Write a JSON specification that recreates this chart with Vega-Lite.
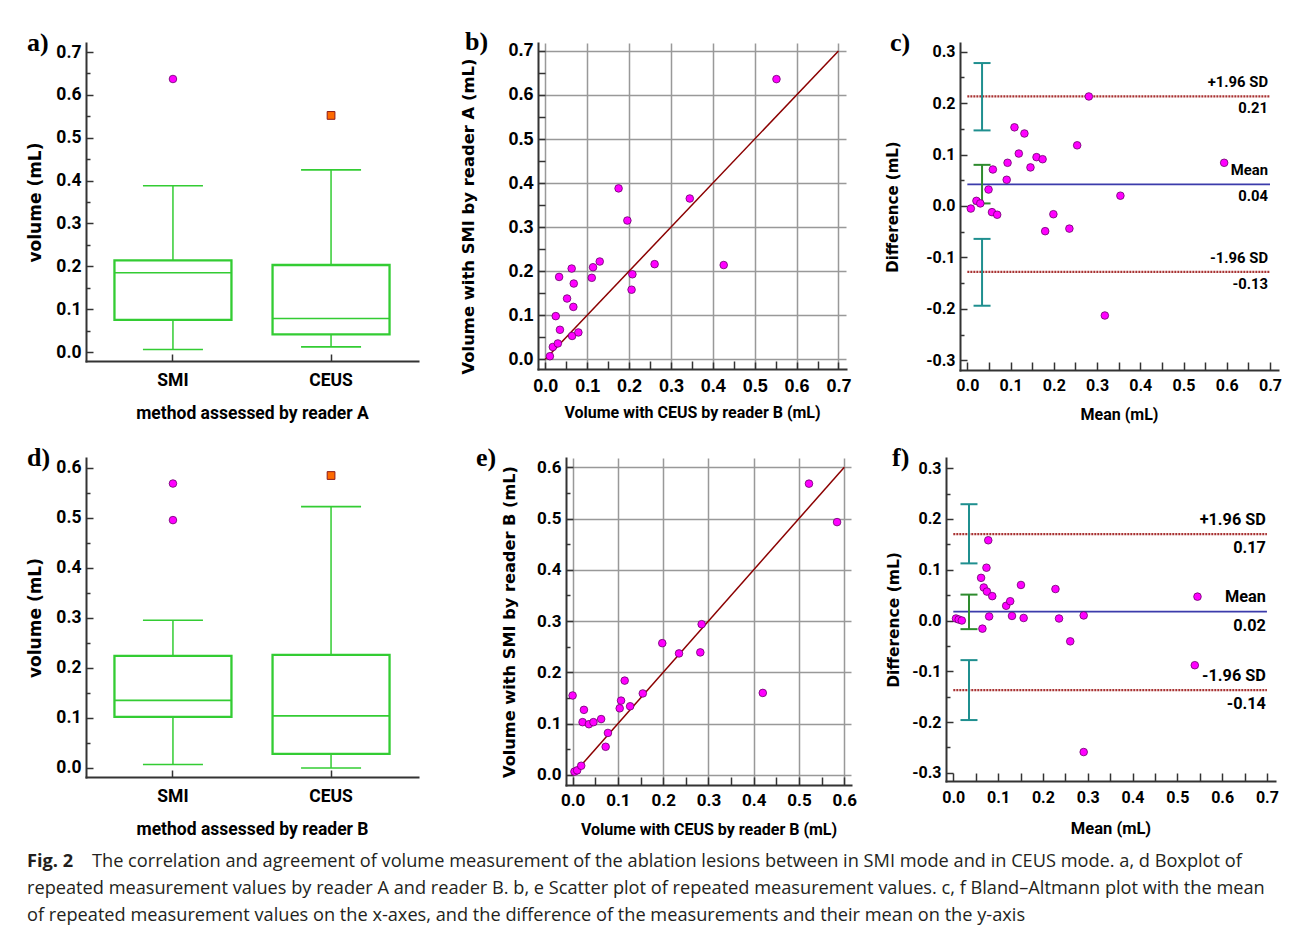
{
"$schema": "https://vega.github.io/schema/vega-lite/v6.json",
"background": "white",
"padding": {"left": 26, "top": 28, "right": 5, "bottom": 5},
"config": {
  "view": {"stroke": null},
  "title": {"font": "Liberation Serif", "fontSize": 26, "fontWeight": "bold", "anchor": "start", "frame": "group", "baseline": "alphabetic", "offset": 0, "dy": 17, "color": "#000"},
  "axis": {"domainColor": "#333", "domainWidth": 2, "domainCap": "square", "tickColor": "#333", "tickWidth": 1.5, "labelFont": "Roboto", "labelFontWeight": "bold", "labelColor": "#000", "titleColor": "#000", "grid": false, "labelFlush": false, "labelOverlap": false}
},
"datasets": {
  "a_box": [{"method": "SMI", "lo": 0.006, "q1": 0.075, "med": 0.185, "q3": 0.214, "hi": 0.388}, {"method": "CEUS", "lo": 0.012, "q1": 0.041, "med": 0.078, "q3": 0.203, "hi": 0.425}],
  "a_out": [{"method": "SMI", "volume": 0.637}, {"method": "CEUS", "volume": 0.552}],
  "d_box": [{"method": "SMI", "lo": 0.007, "q1": 0.102, "med": 0.135, "q3": 0.224, "hi": 0.295}, {"method": "CEUS", "lo": 0.0, "q1": 0.028, "med": 0.104, "q3": 0.226, "hi": 0.522}],
  "d_out": [{"method": "SMI", "volume": 0.568}, {"method": "SMI", "volume": 0.495}, {"method": "CEUS", "volume": 0.584}],
  "b_pts": [{"ceus": 0.011, "smi": 0.007}, {"ceus": 0.018, "smi": 0.028}, {"ceus": 0.025, "smi": 0.098}, {"ceus": 0.030, "smi": 0.036}, {"ceus": 0.033, "smi": 0.187}, {"ceus": 0.035, "smi": 0.067}, {"ceus": 0.052, "smi": 0.138}, {"ceus": 0.063, "smi": 0.206}, {"ceus": 0.064, "smi": 0.053}, {"ceus": 0.067, "smi": 0.119}, {"ceus": 0.068, "smi": 0.172}, {"ceus": 0.079, "smi": 0.061}, {"ceus": 0.111, "smi": 0.185}, {"ceus": 0.114, "smi": 0.209}, {"ceus": 0.130, "smi": 0.222}, {"ceus": 0.175, "smi": 0.388}, {"ceus": 0.196, "smi": 0.315}, {"ceus": 0.206, "smi": 0.158}, {"ceus": 0.208, "smi": 0.193}, {"ceus": 0.261, "smi": 0.216}, {"ceus": 0.345, "smi": 0.365}, {"ceus": 0.426, "smi": 0.214}, {"ceus": 0.552, "smi": 0.636}],
  "b_line": [{"v": 0}, {"v": 0.7}],
  "e_pts": [{"ceus": 0.000, "smi": 0.155}, {"ceus": 0.004, "smi": 0.0065}, {"ceus": 0.010, "smi": 0.009}, {"ceus": 0.019, "smi": 0.018}, {"ceus": 0.022, "smi": 0.103}, {"ceus": 0.025, "smi": 0.127}, {"ceus": 0.036, "smi": 0.099}, {"ceus": 0.046, "smi": 0.103}, {"ceus": 0.063, "smi": 0.109}, {"ceus": 0.073, "smi": 0.055}, {"ceus": 0.078, "smi": 0.082}, {"ceus": 0.104, "smi": 0.130}, {"ceus": 0.107, "smi": 0.145}, {"ceus": 0.115, "smi": 0.184}, {"ceus": 0.127, "smi": 0.134}, {"ceus": 0.155, "smi": 0.159}, {"ceus": 0.198, "smi": 0.257}, {"ceus": 0.235, "smi": 0.237}, {"ceus": 0.282, "smi": 0.239}, {"ceus": 0.285, "smi": 0.294}, {"ceus": 0.420, "smi": 0.160}, {"ceus": 0.522, "smi": 0.568}, {"ceus": 0.584, "smi": 0.493}],
  "e_line": [{"v": 0}, {"v": 0.6}],
  "c_pts": [{"mean": 0.008, "diff": -0.005}, {"mean": 0.021, "diff": 0.010}, {"mean": 0.030, "diff": 0.005}, {"mean": 0.049, "diff": 0.032}, {"mean": 0.057, "diff": -0.012}, {"mean": 0.059, "diff": 0.071}, {"mean": 0.069, "diff": -0.017}, {"mean": 0.091, "diff": 0.051}, {"mean": 0.093, "diff": 0.084}, {"mean": 0.109, "diff": 0.153}, {"mean": 0.119, "diff": 0.102}, {"mean": 0.132, "diff": 0.141}, {"mean": 0.146, "diff": 0.075}, {"mean": 0.160, "diff": 0.095}, {"mean": 0.174, "diff": 0.091}, {"mean": 0.180, "diff": -0.049}, {"mean": 0.199, "diff": -0.016}, {"mean": 0.236, "diff": -0.044}, {"mean": 0.254, "diff": 0.118}, {"mean": 0.281, "diff": 0.213}, {"mean": 0.318, "diff": -0.213}, {"mean": 0.354, "diff": 0.020}, {"mean": 0.594, "diff": 0.084}],
  "c_lines": [{"type": "sd", "name": "+1.96 SD", "value": 0.213, "label": "0.21"}, {"type": "mean", "name": "Mean", "value": 0.042, "label": "0.04"}, {"type": "sd", "name": "-1.96 SD", "value": -0.128, "label": "-0.13"}],
  "c_ci": [{"ci": "sd", "pos": 0.034, "lo": 0.147, "hi": 0.278}, {"ci": "mean", "pos": 0.034, "lo": 0.005, "hi": 0.080}, {"ci": "sd", "pos": 0.034, "lo": -0.194, "hi": -0.064}],
  "f_pts": [{"mean": 0.006, "diff": 0.004}, {"mean": 0.012, "diff": 0.002}, {"mean": 0.019, "diff": 0.000}, {"mean": 0.062, "diff": 0.084}, {"mean": 0.065, "diff": -0.016}, {"mean": 0.068, "diff": 0.065}, {"mean": 0.074, "diff": 0.104}, {"mean": 0.075, "diff": 0.057}, {"mean": 0.078, "diff": 0.158}, {"mean": 0.080, "diff": 0.008}, {"mean": 0.087, "diff": 0.048}, {"mean": 0.118, "diff": 0.029}, {"mean": 0.127, "diff": 0.038}, {"mean": 0.131, "diff": 0.009}, {"mean": 0.151, "diff": 0.070}, {"mean": 0.157, "diff": 0.005}, {"mean": 0.228, "diff": 0.062}, {"mean": 0.236, "diff": 0.004}, {"mean": 0.261, "diff": -0.041}, {"mean": 0.291, "diff": 0.010}, {"mean": 0.291, "diff": -0.259}, {"mean": 0.539, "diff": -0.088}, {"mean": 0.545, "diff": 0.047}],
  "f_lines": [{"type": "sd", "name": "+1.96 SD", "value": 0.170, "label": "0.17"}, {"type": "mean", "name": "Mean", "value": 0.0175, "label": "0.02"}, {"type": "sd", "name": "-1.96 SD", "value": -0.137, "label": "-0.14"}],
  "f_ci": [{"ci": "sd", "pos": 0.035, "lo": 0.1125, "hi": 0.229}, {"ci": "mean", "pos": 0.035, "lo": -0.017, "hi": 0.051}, {"ci": "sd", "pos": 0.035, "lo": -0.196, "hi": -0.078}],
  "caption": [{"line": 1, "part": "fig", "text": "Fig. 2"}, {"line": 1, "part": "body", "text": "The correlation and agreement of volume measurement of the ablation lesions between in SMI mode and in CEUS mode. a, d Boxplot of"}, {"line": 2, "part": "body", "text": "repeated measurement values by reader A and reader B. b, e Scatter plot of repeated measurement values. c, f Bland–Altmann plot with the mean"}, {"line": 3, "part": "body", "text": "of repeated measurement values on the x-axes, and the difference of the measurements and their mean on the y-axis"}]
},
"concat": [
 {
  "concat": [
   {
    "concat": [
     {
      "width": 332, "height": 318,
      "title": {"text": "a)", "dx": -59},
      "resolve": {"axis": {"x": "independent", "y": "independent"}},
      "layer": [
       {"data": {"name": "a_box"}, "mark": {"type": "rule", "color": "#33cc33", "strokeWidth": 1.5},
        "encoding": {
         "x": {"field": "method", "type": "nominal", "sort": ["SMI", "CEUS"], "scale": {"paddingInner": 0.3, "paddingOuter": 0.2},
               "axis": {"orient": "bottom", "title": "method assessed by reader A", "labelAngle": 0, "labelFontSize": 17.5, "tickSize": -7, "labelPadding": 17, "titleFont": "Roboto", "titleFontSize": 17.5, "titleFontWeight": "bold", "titleY": 43, "titleBaseline": "top"}},
         "y": {"field": "lo", "type": "quantitative", "scale": {"domain": [-0.021, 0.721], "nice": false, "zero": false},
               "axis": {"orient": "left", "title": "volume (mL)", "values": [0, 0.1, 0.2, 0.3, 0.4, 0.5, 0.6, 0.7], "labelExpr": "replace(format(datum.value, '.1f'), '\u2212', '-')", "labelFontSize": 17.5, "tickSize": -7, "labelPadding": 12, "titleFont": "DejaVu Sans", "titleFontSize": 17, "titleFontWeight": "bold", "titleX": -42, "titleBaseline": "bottom"}},
         "y2": {"field": "hi"}
        }},
       {"data": {"name": "a_box"}, "mark": {"type": "bar", "size": 117, "fill": "white", "stroke": "#33cc33", "strokeWidth": 2.3},
        "encoding": {"x": {"field": "method", "type": "nominal", "sort": ["SMI", "CEUS"], "axis": null}, "y": {"field": "q1", "type": "quantitative", "axis": null}, "y2": {"field": "q3"}}},
       {"data": {"name": "a_box"}, "mark": {"type": "tick", "orient": "horizontal", "size": 117, "thickness": 1.6, "color": "#33cc33", "opacity": 1},
        "encoding": {"x": {"field": "method", "type": "nominal", "sort": ["SMI", "CEUS"], "axis": null},
         "y": {"field": "med", "type": "quantitative", "axis": {"orient": "left", "values": [0.05, 0.15, 0.25, 0.35, 0.45, 0.55, 0.65], "labels": false, "domain": false, "grid": false, "tickSize": -4, "title": null}}}},
       {"data": {"name": "a_box"}, "mark": {"type": "tick", "orient": "horizontal", "size": 60, "thickness": 1.6, "color": "#33cc33", "opacity": 1},
        "encoding": {"x": {"field": "method", "type": "nominal", "sort": ["SMI", "CEUS"], "axis": null}, "y": {"field": "lo", "type": "quantitative", "axis": null}}},
       {"data": {"name": "a_box"}, "mark": {"type": "tick", "orient": "horizontal", "size": 60, "thickness": 1.6, "color": "#33cc33", "opacity": 1},
        "encoding": {"x": {"field": "method", "type": "nominal", "sort": ["SMI", "CEUS"], "axis": null}, "y": {"field": "hi", "type": "quantitative", "axis": null}}},
       {"data": {"name": "a_out"}, "transform": [{"filter": "datum.method == 'SMI'"}], "mark": {"type": "point", "shape": "circle", "filled": true, "color": "#ff00ff", "stroke": "#6b006b", "strokeWidth": 0.8, "size": 58, "opacity": 1},
        "encoding": {"x": {"field": "method", "type": "nominal", "sort": ["SMI", "CEUS"], "axis": null}, "y": {"field": "volume", "type": "quantitative", "axis": null}}},
       {"data": {"name": "a_out"}, "transform": [{"filter": "datum.method == 'CEUS'"}], "mark": {"type": "point", "shape": "square", "filled": true, "color": "#ff6a00", "stroke": "#8b1a1a", "strokeWidth": 1, "size": 60, "opacity": 1},
        "encoding": {"x": {"field": "method", "type": "nominal", "sort": ["SMI", "CEUS"], "axis": null}, "y": {"field": "volume", "type": "quantitative", "axis": null}}}
      ]
     },
     {
      "concat": [
       {
        "width": 308, "height": 326,
        "title": {"text": "b)", "dx": -73},
        "resolve": {"axis": {"x": "independent", "y": "independent"}},
        "layer": [
         {"data": {"name": "b_line"}, "mark": {"type": "line", "color": "#8b0000", "strokeWidth": 1.5},
          "encoding": {
           "x": {"field": "v", "type": "quantitative", "scale": {"domain": [-0.0174, 0.718], "nice": false, "zero": false},
                 "axis": {"orient": "bottom", "values": [0, 0.1, 0.2, 0.3, 0.4, 0.5, 0.6, 0.7], "format": ".1f", "grid": true, "gridColor": "#999", "gridWidth": 1.5, "labelFont": "Liberation Sans, Arial, sans-serif", "labelFontSize": 18, "tickSize": -7, "labelPadding": 15, "title": "Volume with CEUS by reader B (mL)", "titleFont": "Roboto", "titleFontSize": 16, "titleFontWeight": "bold", "titleY": 35, "titleBaseline": "top"}},
           "y": {"field": "v", "type": "quantitative", "scale": {"domain": [-0.022, 0.718], "nice": false, "zero": false},
                 "axis": {"orient": "left", "values": [0, 0.1, 0.2, 0.3, 0.4, 0.5, 0.6, 0.7], "format": ".1f", "grid": true, "gridColor": "#999", "gridWidth": 1.5, "labelFont": "Liberation Sans, Arial, sans-serif", "labelFontSize": 18, "tickSize": -7, "labelPadding": 12, "title": "Volume with SMI by reader A (mL)", "titleFont": "DejaVu Sans", "titleFontSize": 16.4, "titleFontWeight": "bold", "titleX": -61.7, "titleY": 173, "titleBaseline": "bottom"}}
          }},
         {"data": {"name": "b_pts"}, "mark": {"type": "point", "shape": "circle", "filled": true, "color": "#ff00ff", "stroke": "#6b006b", "strokeWidth": 0.8, "size": 58, "opacity": 1},
          "encoding": {
           "x": {"field": "ceus", "type": "quantitative", "axis": {"orient": "bottom", "values": [0.05, 0.15, 0.25, 0.35, 0.45, 0.55, 0.65], "labels": false, "domain": false, "grid": false, "tickSize": -8, "title": null}},
           "y": {"field": "smi", "type": "quantitative", "axis": {"orient": "left", "values": [0.05, 0.15, 0.25, 0.35, 0.45, 0.55, 0.65], "labels": false, "domain": false, "grid": false, "tickSize": -7, "title": null}}
          }}
        ]
       },
       {
        "width": 318, "height": 327,
        "title": {"text": "c)", "dx": -70},
        "resolve": {"axis": {"x": "independent", "y": "independent"}},
        "layer": [
         {"data": {"name": "c_lines"}, "transform": [{"filter": "datum.type == 'sd'"}], "mark": {"type": "rule", "color": "#a83232", "strokeWidth": 2.2, "strokeDash": [2, 1]},
          "encoding": {
           "x": {"datum": 0, "type": "quantitative", "scale": {"domain": [-0.017, 0.7185], "nice": false, "zero": false},
                 "axis": {"orient": "bottom", "values": [0, 0.1, 0.2, 0.3, 0.4, 0.5, 0.6, 0.7], "format": ".1f", "labelFontSize": 16, "tickSize": -8, "labelPadding": 15, "title": "Mean (mL)", "titleFont": "Roboto", "titleFontSize": 16, "titleFontWeight": "bold", "titleY": 36.5, "titleBaseline": "top"}},
           "x2": {"datum": 0.7},
           "y": {"field": "value", "type": "quantitative", "scale": {"domain": [-0.319, 0.317], "nice": false, "zero": false},
                 "axis": {"orient": "left", "values": [-0.3, -0.2, -0.1, 0, 0.1, 0.2, 0.3], "labelExpr": "replace(format(datum.value, '.1f'), '\u2212', '-')", "labelFontSize": 16, "tickSize": -7, "labelPadding": 12, "title": "Difference (mL)", "titleFont": "DejaVu Sans", "titleFontSize": 15, "titleFontWeight": "bold", "titleX": -59.3, "titleBaseline": "bottom"}}
          }},
         {"data": {"name": "c_lines"}, "transform": [{"filter": "datum.type == 'mean'"}], "mark": {"type": "rule", "color": "#3b3bab", "strokeWidth": 1.6},
          "encoding": {
           "x": {"datum": 0, "type": "quantitative", "axis": {"orient": "bottom", "values": [0.05, 0.15, 0.25, 0.35, 0.45, 0.55, 0.65], "labels": false, "domain": false, "grid": false, "tickSize": -8, "title": null}},
           "x2": {"datum": 0.7},
           "y": {"field": "value", "type": "quantitative", "axis": {"orient": "left", "values": [-0.25, -0.15, -0.05, 0.05, 0.15, 0.25], "labels": false, "domain": false, "grid": false, "tickSize": -4, "title": null}}
          }},
         {"data": {"name": "c_ci"}, "mark": {"type": "rule", "strokeWidth": 2},
          "encoding": {"x": {"field": "pos", "type": "quantitative", "axis": null}, "y": {"field": "lo", "type": "quantitative", "axis": null}, "y2": {"field": "hi"},
           "color": {"field": "ci", "type": "nominal", "scale": {"domain": ["sd", "mean"], "range": ["#1f8f8f", "#2e8b2e"]}, "legend": null}}},
         {"data": {"name": "c_ci"}, "mark": {"type": "tick", "orient": "horizontal", "size": 17, "thickness": 2, "opacity": 1},
          "encoding": {"x": {"field": "pos", "type": "quantitative", "axis": null}, "y": {"field": "lo", "type": "quantitative", "axis": null},
           "color": {"field": "ci", "type": "nominal", "scale": {"domain": ["sd", "mean"], "range": ["#1f8f8f", "#2e8b2e"]}, "legend": null}}},
         {"data": {"name": "c_ci"}, "mark": {"type": "tick", "orient": "horizontal", "size": 17, "thickness": 2, "opacity": 1},
          "encoding": {"x": {"field": "pos", "type": "quantitative", "axis": null}, "y": {"field": "hi", "type": "quantitative", "axis": null},
           "color": {"field": "ci", "type": "nominal", "scale": {"domain": ["sd", "mean"], "range": ["#1f8f8f", "#2e8b2e"]}, "legend": null}}},
         {"data": {"name": "c_lines"}, "mark": {"type": "text", "align": "right", "baseline": "alphabetic", "dx": -2, "dy": -9, "font": "Roboto", "fontSize": 14.8, "fontWeight": "bold", "color": "#000"},
          "encoding": {"x": {"datum": 0.7, "type": "quantitative", "axis": null}, "y": {"field": "value", "type": "quantitative", "axis": null}, "text": {"field": "name"}}},
         {"data": {"name": "c_lines"}, "mark": {"type": "text", "align": "right", "baseline": "top", "dx": -2, "dy": 5, "font": "Roboto", "fontSize": 14.8, "fontWeight": "bold", "color": "#000"},
          "encoding": {"x": {"datum": 0.7, "type": "quantitative", "axis": null}, "y": {"field": "value", "type": "quantitative", "axis": null}, "text": {"field": "label"}}},
         {"data": {"name": "c_pts"}, "mark": {"type": "point", "shape": "circle", "filled": true, "color": "#ff00ff", "stroke": "#6b006b", "strokeWidth": 0.8, "size": 58, "opacity": 1},
          "encoding": {"x": {"field": "mean", "type": "quantitative", "axis": null}, "y": {"field": "diff", "type": "quantitative", "axis": null}}}
        ]
       }
      ],
      "columns": 2, "align": "each", "spacing": 34
     }
    ],
    "columns": 2, "align": "none", "spacing": 42
   },
   {
    "concat": [
     {
      "width": 332, "height": 319,
      "title": {"text": "d)", "dx": -59},
      "resolve": {"axis": {"x": "independent", "y": "independent"}},
      "layer": [
       {"data": {"name": "d_box"}, "mark": {"type": "rule", "color": "#33cc33", "strokeWidth": 1.5},
        "encoding": {
         "x": {"field": "method", "type": "nominal", "sort": ["SMI", "CEUS"], "scale": {"paddingInner": 0.3, "paddingOuter": 0.2},
               "axis": {"orient": "bottom", "title": "method assessed by reader B", "labelAngle": 0, "labelFontSize": 17.5, "tickSize": -7, "labelPadding": 17, "titleFont": "Roboto", "titleFontSize": 17.5, "titleFontWeight": "bold", "titleY": 43, "titleBaseline": "top"}},
         "y": {"field": "lo", "type": "quantitative", "scale": {"domain": [-0.018, 0.619], "nice": false, "zero": false},
               "axis": {"orient": "left", "title": "volume (mL)", "values": [0, 0.1, 0.2, 0.3, 0.4, 0.5, 0.6], "labelExpr": "replace(format(datum.value, '.1f'), '\u2212', '-')", "labelFontSize": 17.5, "tickSize": -7, "labelPadding": 12, "titleFont": "DejaVu Sans", "titleFontSize": 17, "titleFontWeight": "bold", "titleX": -42, "titleBaseline": "bottom"}},
         "y2": {"field": "hi"}
        }},
       {"data": {"name": "d_box"}, "mark": {"type": "bar", "size": 117, "fill": "white", "stroke": "#33cc33", "strokeWidth": 2.3},
        "encoding": {"x": {"field": "method", "type": "nominal", "sort": ["SMI", "CEUS"], "axis": null}, "y": {"field": "q1", "type": "quantitative", "axis": null}, "y2": {"field": "q3"}}},
       {"data": {"name": "d_box"}, "mark": {"type": "tick", "orient": "horizontal", "size": 117, "thickness": 1.6, "color": "#33cc33", "opacity": 1},
        "encoding": {"x": {"field": "method", "type": "nominal", "sort": ["SMI", "CEUS"], "axis": null},
         "y": {"field": "med", "type": "quantitative", "axis": {"orient": "left", "values": [0.05, 0.15, 0.25, 0.35, 0.45, 0.55], "labels": false, "domain": false, "grid": false, "tickSize": -4, "title": null}}}},
       {"data": {"name": "d_box"}, "mark": {"type": "tick", "orient": "horizontal", "size": 60, "thickness": 1.6, "color": "#33cc33", "opacity": 1},
        "encoding": {"x": {"field": "method", "type": "nominal", "sort": ["SMI", "CEUS"], "axis": null}, "y": {"field": "lo", "type": "quantitative", "axis": null}}},
       {"data": {"name": "d_box"}, "mark": {"type": "tick", "orient": "horizontal", "size": 60, "thickness": 1.6, "color": "#33cc33", "opacity": 1},
        "encoding": {"x": {"field": "method", "type": "nominal", "sort": ["SMI", "CEUS"], "axis": null}, "y": {"field": "hi", "type": "quantitative", "axis": null}}},
       {"data": {"name": "d_out"}, "transform": [{"filter": "datum.method == 'SMI'"}], "mark": {"type": "point", "shape": "circle", "filled": true, "color": "#ff00ff", "stroke": "#6b006b", "strokeWidth": 0.8, "size": 58, "opacity": 1},
        "encoding": {"x": {"field": "method", "type": "nominal", "sort": ["SMI", "CEUS"], "axis": null}, "y": {"field": "volume", "type": "quantitative", "axis": null}}},
       {"data": {"name": "d_out"}, "transform": [{"filter": "datum.method == 'CEUS'"}], "mark": {"type": "point", "shape": "square", "filled": true, "color": "#ff6a00", "stroke": "#8b1a1a", "strokeWidth": 1, "size": 60, "opacity": 1},
        "encoding": {"x": {"field": "method", "type": "nominal", "sort": ["SMI", "CEUS"], "axis": null}, "y": {"field": "volume", "type": "quantitative", "axis": null}}}
      ]
     },
     {
      "concat": [
       {
        "width": 285, "height": 327,
        "title": {"text": "e)", "dx": -90},
        "resolve": {"axis": {"x": "independent", "y": "independent"}},
        "layer": [
         {"data": {"name": "e_line"}, "mark": {"type": "line", "color": "#8b0000", "strokeWidth": 1.5},
          "encoding": {
           "x": {"field": "v", "type": "quantitative", "scale": {"domain": [-0.0146, 0.6148], "nice": false, "zero": false},
                 "axis": {"orient": "bottom", "values": [0, 0.1, 0.2, 0.3, 0.4, 0.5, 0.6], "format": ".1f", "grid": true, "gridColor": "#999", "gridWidth": 1.5, "labelFontSize": 17, "tickSize": -8, "labelPadding": 15, "title": "Volume with CEUS by reader B (mL)", "titleFont": "Roboto", "titleFontSize": 16, "titleFontWeight": "bold", "titleY": 36, "titleBaseline": "top"}},
           "y": {"field": "v", "type": "quantitative", "scale": {"domain": [-0.0195, 0.618], "nice": false, "zero": false},
                 "axis": {"orient": "left", "values": [0, 0.1, 0.2, 0.3, 0.4, 0.5, 0.6], "format": ".1f", "grid": true, "gridColor": "#999", "gridWidth": 1.5, "labelFontSize": 17, "tickSize": -7, "labelPadding": 12, "title": "Volume with SMI by reader B (mL)", "titleFont": "DejaVu Sans", "titleFontSize": 16.2, "titleFontWeight": "bold", "titleX": -48.4, "titleBaseline": "bottom"}}
          }},
         {"data": {"name": "e_pts"}, "mark": {"type": "point", "shape": "circle", "filled": true, "color": "#ff00ff", "stroke": "#6b006b", "strokeWidth": 0.8, "size": 58, "opacity": 1},
          "encoding": {
           "x": {"field": "ceus", "type": "quantitative", "axis": {"orient": "bottom", "values": [0.05, 0.15, 0.25, 0.35, 0.45, 0.55], "labels": false, "domain": false, "grid": false, "tickSize": -8, "title": null}},
           "y": {"field": "smi", "type": "quantitative", "axis": {"orient": "left", "values": [0.05, 0.15, 0.25, 0.35, 0.45, 0.55], "labels": false, "domain": false, "grid": false, "tickSize": -4, "title": null}}
          }}
        ]
       },
       {
        "width": 329, "height": 323,
        "title": {"text": "f)", "dx": -54},
        "resolve": {"axis": {"x": "independent", "y": "independent"}},
        "layer": [
         {"data": {"name": "f_lines"}, "transform": [{"filter": "datum.type == 'sd'"}], "mark": {"type": "rule", "color": "#a83232", "strokeWidth": 2.2, "strokeDash": [2, 1]},
          "encoding": {
           "x": {"datum": 0, "type": "quantitative", "scale": {"domain": [-0.0163, 0.718], "nice": false, "zero": false},
                 "axis": {"orient": "bottom", "values": [0, 0.1, 0.2, 0.3, 0.4, 0.5, 0.6, 0.7], "format": ".1f", "labelFontSize": 16, "tickSize": -8, "labelPadding": 16, "title": "Mean (mL)", "titleFont": "Roboto", "titleFontSize": 16.5, "titleFontWeight": "bold", "titleY": 39, "titleBaseline": "top"}},
           "x2": {"datum": 0.7},
           "y": {"field": "value", "type": "quantitative", "scale": {"domain": [-0.316, 0.32], "nice": false, "zero": false},
                 "axis": {"orient": "left", "values": [-0.3, -0.2, -0.1, 0, 0.1, 0.2, 0.3], "labelExpr": "replace(format(datum.value, '.1f'), '\u2212', '-')", "labelFontSize": 16, "tickSize": -7, "labelPadding": 12, "title": "Difference (mL)", "titleFont": "DejaVu Sans", "titleFontSize": 15.5, "titleFontWeight": "bold", "titleX": -45, "titleBaseline": "bottom"}}
          }},
         {"data": {"name": "f_lines"}, "transform": [{"filter": "datum.type == 'mean'"}], "mark": {"type": "rule", "color": "#3b3bab", "strokeWidth": 1.6},
          "encoding": {
           "x": {"datum": 0, "type": "quantitative", "axis": {"orient": "bottom", "values": [0.05, 0.15, 0.25, 0.35, 0.45, 0.55, 0.65], "labels": false, "domain": false, "grid": false, "tickSize": -8, "title": null}},
           "x2": {"datum": 0.7},
           "y": {"field": "value", "type": "quantitative", "axis": {"orient": "left", "values": [-0.25, -0.15, -0.05, 0.05, 0.15, 0.25], "labels": false, "domain": false, "grid": false, "tickSize": -4, "title": null}}
          }},
         {"data": {"name": "f_ci"}, "mark": {"type": "rule", "strokeWidth": 2},
          "encoding": {"x": {"field": "pos", "type": "quantitative", "axis": null}, "y": {"field": "lo", "type": "quantitative", "axis": null}, "y2": {"field": "hi"},
           "color": {"field": "ci", "type": "nominal", "scale": {"domain": ["sd", "mean"], "range": ["#1f8f8f", "#2e8b2e"]}, "legend": null}}},
         {"data": {"name": "f_ci"}, "mark": {"type": "tick", "orient": "horizontal", "size": 17, "thickness": 2, "opacity": 1},
          "encoding": {"x": {"field": "pos", "type": "quantitative", "axis": null}, "y": {"field": "lo", "type": "quantitative", "axis": null},
           "color": {"field": "ci", "type": "nominal", "scale": {"domain": ["sd", "mean"], "range": ["#1f8f8f", "#2e8b2e"]}, "legend": null}}},
         {"data": {"name": "f_ci"}, "mark": {"type": "tick", "orient": "horizontal", "size": 17, "thickness": 2, "opacity": 1},
          "encoding": {"x": {"field": "pos", "type": "quantitative", "axis": null}, "y": {"field": "hi", "type": "quantitative", "axis": null},
           "color": {"field": "ci", "type": "nominal", "scale": {"domain": ["sd", "mean"], "range": ["#1f8f8f", "#2e8b2e"]}, "legend": null}}},
         {"data": {"name": "f_lines"}, "mark": {"type": "text", "align": "right", "baseline": "alphabetic", "dx": -1, "dy": -9.4, "font": "Roboto", "fontSize": 16.3, "fontWeight": "bold", "color": "#000"},
          "encoding": {"x": {"datum": 0.7, "type": "quantitative", "axis": null}, "y": {"field": "value", "type": "quantitative", "axis": null}, "text": {"field": "name"}}},
         {"data": {"name": "f_lines"}, "mark": {"type": "text", "align": "right", "baseline": "top", "dx": -1, "dy": 6, "font": "Roboto", "fontSize": 16.3, "fontWeight": "bold", "color": "#000"},
          "encoding": {"x": {"datum": 0.7, "type": "quantitative", "axis": null}, "y": {"field": "value", "type": "quantitative", "axis": null}, "text": {"field": "label"}}},
         {"data": {"name": "f_pts"}, "mark": {"type": "point", "shape": "circle", "filled": true, "color": "#ff00ff", "stroke": "#6b006b", "strokeWidth": 0.8, "size": 58, "opacity": 1},
          "encoding": {"x": {"field": "mean", "type": "quantitative", "axis": null}, "y": {"field": "diff", "type": "quantitative", "axis": null}}}
        ]
       }
      ],
      "columns": 2, "align": "each", "spacing": 29
     }
    ],
    "columns": 2, "align": "none", "spacing": 58
   }
  ],
  "columns": 1, "align": "none", "spacing": 22
 },
 {
  "width": 1100, "height": 80,
  "data": {"name": "caption"},
  "layer": [
   {"transform": [{"filter": "datum.part == 'fig'"}],
    "mark": {"type": "text", "align": "left", "baseline": "alphabetic", "dx": -59, "font": "Open Sans", "fontSize": 18.2, "fontWeight": "bold", "color": "#231f20"},
    "encoding": {"x": {"datum": 0, "type": "quantitative", "scale": {"domain": [0, 1]}, "axis": null}, "y": {"field": "line", "type": "ordinal", "axis": null}, "text": {"field": "text"}}},
   {"transform": [{"filter": "datum.part == 'body' && datum.line == 1"}],
    "mark": {"type": "text", "align": "left", "baseline": "alphabetic", "dx": 6, "font": "Open Sans", "fontSize": 18.2, "color": "#231f20"},
    "encoding": {"x": {"datum": 0, "type": "quantitative", "axis": null}, "y": {"field": "line", "type": "ordinal", "axis": null}, "text": {"field": "text"}}},
   {"transform": [{"filter": "datum.line > 1"}],
    "mark": {"type": "text", "align": "left", "baseline": "alphabetic", "dx": -59, "font": "Open Sans", "fontSize": 18.2, "color": "#231f20"},
    "encoding": {"x": {"datum": 0, "type": "quantitative", "axis": null}, "y": {"field": "line", "type": "ordinal", "axis": null}, "text": {"field": "text"}}}
  ]
 }
],
"columns": 1, "align": "none", "spacing": 14
}
